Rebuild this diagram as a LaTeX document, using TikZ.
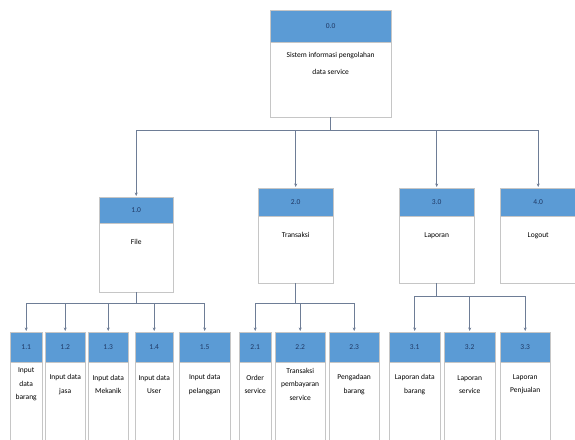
\documentclass[tikz,border=0pt]{standalone}
\usepackage{fontspec}
\setmainfont{Carlito}
\usetikzlibrary{calc,positioning,arrows.meta}
\definecolor{headblue}{RGB}{91,155,213}
\definecolor{numblue}{RGB}{31,56,100}
\definecolor{linkgray}{RGB}{110,125,150}
\newcommand{\boxline}{gray!45}
\newcommand{\lbl}{\fontsize{7.5}{13.5}\selectfont}
\tikzset{
  body/.style={draw=\boxline, fill=white, inner sep=0pt, anchor=north west},
  head/.style={draw=\boxline, fill=headblue, text=numblue, inner sep=0pt, anchor=north west, font=\lbl},
  txt/.style={align=center, font=\lbl, inner sep=0pt},
  conn/.style={draw=linkgray, line width=0.8pt},
  arr/.style={conn, -{Stealth[length=3.5pt,width=3pt]}, shorten >=1pt},
}

\begin{document}
\begin{tikzpicture}[x=1pt,y=-1pt]
\useasboundingbox (0,0) rectangle (575,439);
%0.0
\node[body, minimum width=121pt, minimum height=107pt] (top) at (270,10) {};
\node[head, minimum width=121pt, minimum height=32pt] (htop) at (top.north west) {0.0};
\node[txt, font=\fontsize{7.5}{17}\selectfont] (ttop) at ([yshift=-21pt]htop.south) {Sistem informasi pengolahan\\data service};
%1.0 2.0 3.0 4.0
\node[body, minimum width=74pt, minimum height=95pt] (file) at (99,197) {};
\node[head, minimum width=74pt, minimum height=26pt] (hfile) at (file.north west) {1.0};
\node[txt] (tfile) at ([yshift=-19pt]hfile.south) {File};
\node[body, minimum width=75pt, minimum height=95pt] (trans) at (258,188) {};
\node[head, minimum width=75pt, minimum height=28pt] (htrans) at (trans.north west) {2.0};
\node[txt] (ttrans) at ([yshift=-19pt]htrans.south) {Transaksi};
\node[body, minimum width=75pt, minimum height=95pt] (lap) at (399,188) {};
\node[head, minimum width=75pt, minimum height=28pt] (hlap) at (lap.north west) {3.0};
\node[txt] (tlap) at ([yshift=-19pt]hlap.south) {Laporan};
\node[body, minimum width=76pt, minimum height=95pt] (logout) at (500,188) {};
\node[head, minimum width=76pt, minimum height=28pt] (hlogout) at (logout.north west) {4.0};
\node[txt] (tlogout) at ([yshift=-19pt]hlogout.south) {Logout};
%1.1 - 1.5
\node[body, minimum width=32pt, minimum height=115pt] (b11) at (10,332) {};
\node[head, minimum width=32pt, minimum height=30pt] (h11) at (b11.north west) {1.1};
\node[txt] (t11) at ([yshift=-22pt]h11.south) {Input\\data\\barang};
\node[body, minimum width=40pt, minimum height=115pt] (b12) at (45,332) {};
\node[head, minimum width=40pt, minimum height=30pt] (h12) at (b12.north west) {1.2};
\node[txt] (t12) at ([yshift=-22pt]h12.south) {Input data\\jasa};
\node[body, minimum width=40pt, minimum height=115pt] (b13) at (88,332) {};
\node[head, minimum width=40pt, minimum height=30pt] (h13) at (b13.north west) {1.3};
\node[txt] (t13) at ([yshift=-22pt]h13.south) {Input data\\Mekanik};
\node[body, minimum width=38pt, minimum height=115pt] (b14) at (135,332) {};
\node[head, minimum width=38pt, minimum height=30pt] (h14) at (b14.north west) {1.4};
\node[txt] (t14) at ([yshift=-22pt]h14.south) {Input data\\User};
\node[body, minimum width=51pt, minimum height=115pt] (b15) at (179,332) {};
\node[head, minimum width=51pt, minimum height=30pt] (h15) at (b15.north west) {1.5};
\node[txt] (t15) at ([yshift=-22pt]h15.south) {Input data\\pelanggan};
%2.1 - 2.3
\node[body, minimum width=32pt, minimum height=115pt] (b21) at (239,332) {};
\node[head, minimum width=32pt, minimum height=30pt] (h21) at (b21.north west) {2.1};
\node[txt] (t21) at ([yshift=-22pt]h21.south) {Order\\service};
\node[body, minimum width=50pt, minimum height=115pt] (b22) at (275,332) {};
\node[head, minimum width=50pt, minimum height=30pt] (h22) at (b22.north west) {2.2};
\node[txt] (t22) at ([yshift=-22pt]h22.south) {Transaksi\\pembayaran\\service};
\node[body, minimum width=50pt, minimum height=115pt] (b23) at (329,332) {};
\node[head, minimum width=50pt, minimum height=30pt] (h23) at (b23.north west) {2.3};
\node[txt] (t23) at ([yshift=-22pt]h23.south) {Pengadaan\\barang};
%3.1 - 3.3
\node[body, minimum width=51pt, minimum height=115pt] (b31) at (389,332) {};
\node[head, minimum width=51pt, minimum height=30pt] (h31) at (b31.north west) {3.1};
\node[txt] (t31) at ([yshift=-22pt]h31.south) {Laporan data\\barang};
\node[body, minimum width=51pt, minimum height=115pt] (b32) at (444,332) {};
\node[head, minimum width=51pt, minimum height=30pt] (h32) at (b32.north west) {3.2};
\node[txt] (t32) at ([yshift=-22pt]h32.south) {Laporan\\service};
\node[body, minimum width=50pt, minimum height=115pt] (b33) at (500,332) {};
\node[head, minimum width=50pt, minimum height=30pt] (h33) at (b33.north west) {3.3};
\node[txt] (t33) at ([yshift=-22pt]h33.south) {Laporan\\Penjualan};
%connectors
\coordinate (bus0) at (0,130);
\coordinate (bus1) at (0,303);
\coordinate (bus2) at (0,303);
\coordinate (bus3) at (0,296);
\draw[conn] (top.south) -- (top.south |- bus0);
\draw[conn] (hfile.north |- bus0) -- (hlogout.north |- bus0);
\draw[arr] (hfile.north |- bus0) -- (hfile.north);
\draw[arr] (htrans.north |- bus0) -- (htrans.north);
\draw[arr] (hlap.north |- bus0) -- (hlap.north);
\draw[arr] (hlogout.north |- bus0) -- (hlogout.north);
%1
\draw[conn] (file.south) -- (file.south |- bus1);
\draw[conn] (h11.north |- bus1) -- (h15.north |- bus1);
\draw[arr] (h11.north |- bus1) -- (h11.north);
\draw[arr] (h12.north |- bus1) -- (h12.north);
\draw[arr] (h13.north |- bus1) -- (h13.north);
\draw[arr] (h14.north |- bus1) -- (h14.north);
\draw[arr] (h15.north |- bus1) -- (h15.north);
%2
\draw[conn] (trans.south) -- (trans.south |- bus2);
\draw[conn] (h21.north |- bus2) -- (h23.north |- bus2);
\draw[arr] (h21.north |- bus2) -- (h21.north);
\draw[arr] (h22.north |- bus2) -- (h22.north);
\draw[arr] (h23.north |- bus2) -- (h23.north);
%3
\draw[conn] (lap.south) -- (lap.south |- bus3);
\draw[conn] (h31.north |- bus3) -- (h33.north |- bus3);
\draw[arr] (h31.north |- bus3) -- (h31.north);
\draw[arr] (h32.north |- bus3) -- (h32.north);
\draw[arr] (h33.north |- bus3) -- (h33.north);
\end{tikzpicture}
\end{document}
